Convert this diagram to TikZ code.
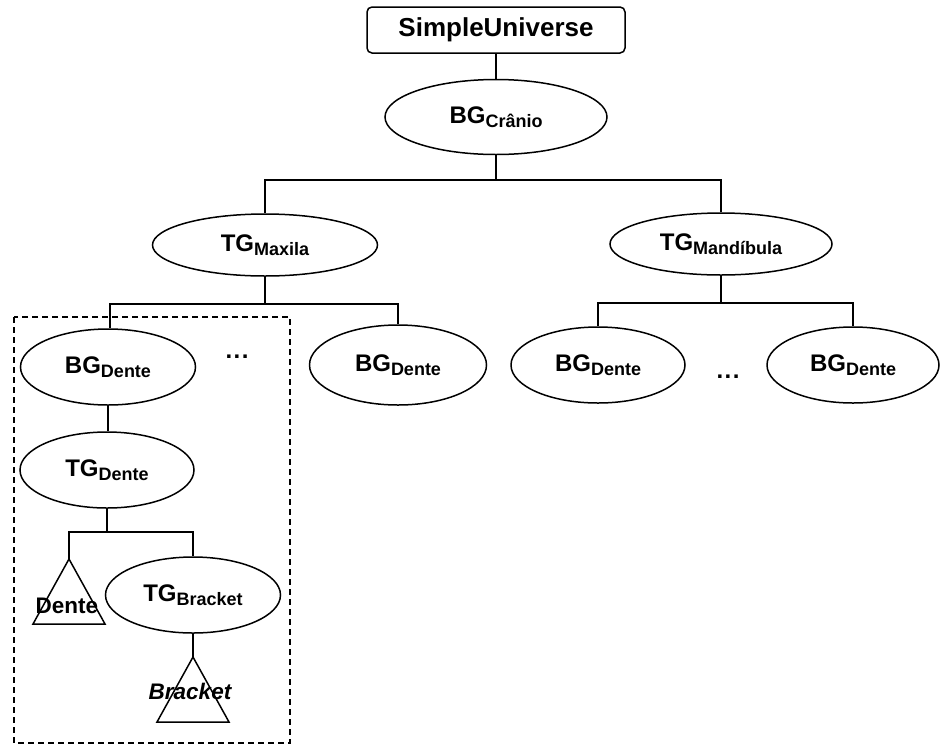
\documentclass[tikz,border=0pt]{standalone}
\usepackage{fontspec}
\setmainfont{Liberation Sans}
\usetikzlibrary{shapes.geometric}
% group label with a lowered subscript word, e.g. BG_Dente
\newcommand{\grplbl}[2]{{\fontsize{24}{26}\selectfont\bfseries #1}\raisebox{-4pt}{\fontsize{18}{20}\selectfont\bfseries #2}}
% widely spaced ellipsis
\newcommand{\wdots}{.\kern1.5pt.\kern1.5pt.}
\tikzset{
  line/.style={line width=1.5pt},
  grp/.style={ellipse, draw, line width=1.5pt, inner sep=0pt},
  rootbox/.style={draw, line width=1.5pt, rounded corners=5pt, inner sep=0pt,
    minimum width=258pt, minimum height=46pt,
    font=\fontsize{26}{28}\selectfont\bfseries},
  dots/.style={font=\fontsize{24}{26}\selectfont\bfseries},
  leaf/.style={draw, line width=1.5pt, line join=miter},
  leaftext/.style={font=\fontsize{22.5}{24}\selectfont\bfseries, inner sep=0pt}
}
\begin{document}
\begin{tikzpicture}[x=1pt, y=-1pt]
\useasboundingbox (0,0) rectangle (941,745);

% root and branch groups
\node[rootbox] (su) at (496,30) {SimpleUniverse};
\node[grp, minimum width=222pt, minimum height=75pt] (bgc) at (496,117) {\grplbl{BG}{Crânio}};
\node[grp, minimum width=225pt, minimum height=62pt] (tgmax) at (265,245) {\grplbl{TG}{Maxila}};
\node[grp, minimum width=222pt, minimum height=62pt] (tgmand) at (721,244) {\grplbl{TG}{Mandíbula}};

% tooth groups
\node[grp, minimum width=175pt, minimum height=76pt] (bg1) at (108,367) {\grplbl{BG}{Dente}};
\node[grp, minimum width=177pt, minimum height=80pt] (bg2) at (398,365) {\grplbl{BG}{Dente}};
\node[grp, minimum width=174pt, minimum height=76pt] (bg3) at (598,365) {\grplbl{BG}{Dente}};
\node[grp, minimum width=172pt, minimum height=76pt] (bg4) at (853,365) {\grplbl{BG}{Dente}};
\node[dots] (dots1) at (237,357) {\wdots};
\node[dots] (dots2) at (728,377) {\wdots};

% single tooth subtree
\node[grp, minimum width=174pt, minimum height=76pt] (tgd) at (107,470) {\grplbl{TG}{Dente}};
\node[grp, minimum width=175pt, minimum height=76pt] (tgb) at (193,595) {\grplbl{TG}{Bracket}};

% shape leaves
\coordinate (dtop) at (69,559);
\coordinate (btop) at (193,657);
\draw[leaf] (dtop) -- (105,624) -- (33,624) -- cycle;
\draw[leaf] (btop) -- (229,722) -- (157,722) -- cycle;
\node[leaftext] (dlbl) at (67,606) {Dente};
\node[leaftext, font=\fontsize{22.5}{24}\selectfont\bfseries\itshape] (blbl) at (190,691) {Bracket};

% connectors
\draw[line] (su.south) -- (bgc.north);
\draw[line] (bgc.south) -- (bgc.south |- 0,180) coordinate (j1) -| (tgmax.north);
\draw[line] (j1) -| (tgmand.north);
\draw[line] (tgmax.south) -- (tgmax.south |- 0,304) coordinate (j2) -| (110,0 |- bg1.north);
\draw[line] (j2) -| (bg2.north);
\draw[line] (tgmand.south) -- (tgmand.south |- 0,303) coordinate (j3) -| (bg3.north);
\draw[line] (j3) -| (bg4.north);
\draw[line] (bg1.south) -- (bg1.south |- tgd.north);
\draw[line] (tgd.south) -- (tgd.south |- 0,532) coordinate (j4) -| (dtop);
\draw[line] (j4) -| (tgb.north);
\draw[line] (tgb.south) -- (btop);

% frame around one tooth
\draw[line width=1.5pt, dash pattern=on 6pt off 4pt] (14,317) rectangle (290,743);
\end{tikzpicture}
\end{document}
